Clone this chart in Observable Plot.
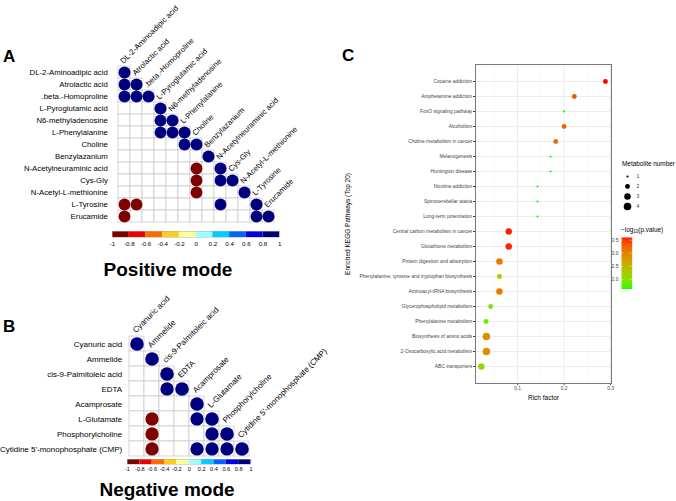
<!DOCTYPE html>
<html>
<head>
<meta charset="utf-8">
<script src="https://cdn.jsdelivr.net/npm/d3@7"></script>
<script src="https://cdn.jsdelivr.net/npm/@observablehq/plot@0.6"></script>
<style>
  body { margin: 0; background: #fff; }
  #root { position: relative; width: 676px; height: 501px; overflow: hidden; background: #fff;
          font-family: "Liberation Sans", Arial, Helvetica, sans-serif; }
  .abs { position: absolute; }
  #overlay { position: absolute; left: 0; top: 0; pointer-events: none; }
</style>
</head>
<body>
<div id="root"></div>
<script>
// ---------------- DATA ----------------
// Panel A (positive mode) metabolites, in row/column order
const posNames = [
  "DL-2-Aminoadipic acid", "Atrolactic acid", ".beta.-Homoproline", "L-Pyroglutamic acid",
  "N6-methyladenosine", "L-Phenylalanine", "Choline", "Benzylazanium",
  "N-Acetylneuraminic acid", "Cys-Gly", "N-Acetyl-L-methionine", "L-Tyrosine", "Erucamide"
];
// significant off-diagonal correlations [row, column, r]
const posCorr = [
  ["Atrolactic acid", "DL-2-Aminoadipic acid", 0.95],
  [".beta.-Homoproline", "DL-2-Aminoadipic acid", 0.95],
  [".beta.-Homoproline", "Atrolactic acid", 0.95],
  ["N6-methyladenosine", "L-Pyroglutamic acid", 0.95],
  ["L-Phenylalanine", "L-Pyroglutamic acid", 0.95],
  ["L-Phenylalanine", "N6-methyladenosine", 0.95],
  ["Choline", "L-Phenylalanine", 0.95],
  ["N-Acetylneuraminic acid", "Choline", -0.95],
  ["Cys-Gly", "Choline", -0.95],
  ["Cys-Gly", "N-Acetylneuraminic acid", 0.95],
  ["N-Acetyl-L-methionine", "Choline", -0.95],
  ["L-Tyrosine", "DL-2-Aminoadipic acid", -0.95],
  ["L-Tyrosine", "Atrolactic acid", -0.95],
  ["L-Tyrosine", "N-Acetylneuraminic acid", 0.95],
  ["Erucamide", "DL-2-Aminoadipic acid", -0.95],
  ["Erucamide", "L-Tyrosine", 0.95]
];

// Panel B (negative mode)
const negNames = [
  "Cyanuric acid", "Ammelide", "cis-9-Palmitoleic acid", "EDTA", "Acamprosate",
  "L-Glutamate", "Phosphorylcholine", "Cytidine 5'-monophosphate (CMP)"
];
const negCorr = [
  ["EDTA", "cis-9-Palmitoleic acid", 0.95],
  ["L-Glutamate", "Ammelide", -0.95],
  ["L-Glutamate", "Acamprosate", 0.95],
  ["Phosphorylcholine", "Ammelide", -0.95],
  ["Phosphorylcholine", "L-Glutamate", 0.95],
  ["Cytidine 5'-monophosphate (CMP)", "Ammelide", -0.95],
  ["Cytidine 5'-monophosphate (CMP)", "Acamprosate", 0.95],
  ["Cytidine 5'-monophosphate (CMP)", "L-Glutamate", 0.95],
  ["Cytidine 5'-monophosphate (CMP)", "Phosphorylcholine", 0.95]
];

// correlation colour bar
const colorbarTicks = [-1, -0.8, -0.6, -0.4, -0.2, 0, 0.2, 0.4, 0.6, 0.8, 1];
const corrThresholds = [-0.8, -0.6, -0.4, -0.2, 0, 0.2, 0.4, 0.6, 0.8];
const corrColors = ["#7F0000", "#EE0000", "#FF6A00", "#FFCC1A", "#FFFF99",
                    "#99FFFF", "#00CCFF", "#0066FF", "#0000E6", "#00007F"];

// Panel C (KEGG enrichment)
const pathways = [
  "Cocaine addiction", "Amphetamine addiction", "FoxO signaling pathway", "Alcoholism",
  "Choline metabolism in cancer", "Melanogenesis", "Huntington disease", "Nicotine addiction",
  "Spinocerebellar ataxia", "Long-term potentiation", "Central carbon metabolism in cancer",
  "Glutathione metabolism", "Protein digestion and absorption",
  "Phenylalanine, tyrosine and tryptophan biosynthesis", "Aminoacyl-tRNA biosynthesis",
  "Glycerophospholipid metabolism", "Phenylalanine metabolism", "Biosynthesis of amino acids",
  "2-Oxocarboxylic acid metabolism", "ABC transporters"
];
const richFactor = [0.289, 0.222, 0.200, 0.200, 0.182, 0.171, 0.171, 0.143, 0.143, 0.143,
                    0.081, 0.081, 0.061, 0.061, 0.061, 0.042, 0.032, 0.033, 0.033, 0.022];
const metaboliteNumber = [2, 2, 1, 2, 2, 1, 1, 1, 1, 1, 3, 3, 3, 2, 3, 2, 2, 4, 4, 3];
const negLogP = [3.60, 3.30, 1.62, 3.25, 3.20, 1.62, 1.62, 1.62, 1.62, 1.62,
                 3.55, 3.55, 3.10, 2.40, 3.10, 1.95, 1.85, 2.90, 2.90, 2.10];
const sizeLevels = [1, 2, 3, 4];
const pTicks = [2.0, 2.5, 3.0, 3.5];
const pDomain = [1.62, 3.60];
const richTicks = [0.1, 0.2, 0.3];
const richMinor = [0.05, 0.15, 0.25];

// ---------------- DRAWING ----------------
const FONT = '"Liberation Sans", Arial, Helvetica, sans-serif';
const root = document.getElementById("root");
function place(node, left, top, w) {
  const d = document.createElement("div");
  d.className = "abs";
  d.style.left = left + "px"; d.style.top = top + "px"; d.style.width = w + "px";
  d.append(node); root.append(d);
}
const corrColor = {type: "threshold", domain: corrThresholds, range: corrColors};

function corrPlot(names, corr, o) {
  const n = names.length;
  const cells = names.flatMap((row, i) => names.slice(0, i + 1).map(col => ({row, col})));
  const diag = names.map(nm => ({row: nm, col: nm}));
  const dots = names.map(nm => ({a: nm, b: nm, r: 1}))
    .concat(corr.map(([a, b, r]) => ({a, b, r})));
  return Plot.plot({
    width: o.width,
    height: o.gridTop + n * o.cell + 2,
    marginLeft: o.gridLeft,
    marginRight: o.width - o.gridLeft - n * o.cell,
    marginTop: o.gridTop,
    marginBottom: 2,
    style: {fontFamily: FONT, fontSize: o.font + "px", background: "transparent", color: "#000", overflow: "visible"},
    x: {domain: names, padding: 0, axis: null},
    y: {domain: names, padding: 0, tickSize: 0, tickPadding: o.pad, label: null},
    r: {type: "sqrt", domain: [0, 1], range: [0, o.rFrac * o.cell]},
    color: corrColor,
    marks: [
      Plot.cell(cells, {x: "col", y: "row", fill: "white", stroke: "#cccccc", strokeWidth: 0.8, inset: 0}),
      Plot.dot(dots, {x: "b", y: "a", r: d => Math.abs(d.r), fill: "r"}),
      Plot.text(diag, {x: "col", y: "row", text: "col", rotate: -45, textAnchor: "start",
        lineAnchor: "bottom", dx: -1, dy: -o.cell / 2 - o.lift, fontSize: o.font, fill: "#000"})
    ]
  });
}

function colorbar(gridLeft, gridWidth, barH, font, pad) {
  const bins = d3.pairs(colorbarTicks).map(([lo, hi]) => ({lo, hi, mid: (lo + hi) / 2}));
  return Plot.plot({
    width: gridLeft + gridWidth + 12,
    height: 3 + barH + 13,
    marginLeft: gridLeft, marginRight: 12, marginTop: 3, marginBottom: 13,
    style: {fontFamily: FONT, fontSize: font + "px", background: "transparent", color: "#000", overflow: "visible"},
    x: {domain: [-1, 1], ticks: colorbarTicks, tickFormat: d => String(d), tickSize: 0, tickPadding: pad, label: null},
    y: {domain: [0, 1], axis: null},
    color: corrColor,
    marks: [
      Plot.rect(bins, {x1: "lo", x2: "hi", y1: 0, y2: 1, fill: "mid"}),
      Plot.frame({stroke: "#b0b0b0", strokeWidth: 0.5})
    ]
  });
}

// Panel A
const cellA = (279.3 - 112) / posNames.length;
place(corrPlot(posNames, posCorr, {width: 340, gridLeft: 112, gridTop: 60.5, cell: cellA,
  font: 7.8, pad: 4.7, rFrac: 0.47, lift: 2}), 0, 0, 340);
place(colorbar(112, 13 * cellA, 6, 6.2, 4), 0, 228, 112 + 13 * cellA + 12);

// Panel B
const cellB = 15.45;
place(corrPlot(negNames, negCorr, {width: 340, gridLeft: 127, gridTop: 54, cell: cellB,
  font: 8, pad: 5.3, rFrac: 0.44, lift: 3}), 0, 280, 340);
place(colorbar(127, 8 * cellB, 5, 5.6, 3), 0, 456, 127 + 8 * cellB + 12);

// Panel C
const rScale = {type: "log", domain: [1, 4], range: [1.1, 3.8]};
const pColor = {type: "linear", domain: pDomain, range: ["#00FF00", "#FF0000"], interpolate: "lab"};
const keggRows = pathways.map((name, i) => ({name, rich: richFactor[i], count: metaboliteNumber[i], p: negLogP[i]}));
const plotC = Plot.plot({
  width: 336, height: 420,
  marginLeft: 135, marginRight: 65, marginTop: 64, marginBottom: 37,
  style: {fontFamily: FONT, fontSize: "4.9px", background: "transparent", color: "#444", overflow: "visible"},
  x: {domain: [0.0095, 0.302], ticks: richTicks, tickFormat: d3.format(".1f"), tickSize: 2, tickPadding: 1.5, label: null},
  y: {domain: pathways, type: "point", padding: 0.6, tickSize: 2, tickPadding: 1.2, label: null},
  r: rScale,
  color: pColor,
  marks: [
    Plot.ruleX(richMinor, {stroke: "#f2f2f2", strokeWidth: 0.5}),
    Plot.ruleX(richTicks, {stroke: "#e6e6e6", strokeWidth: 0.8}),
    Plot.ruleY(pathways, {stroke: "#e8e8e8", strokeWidth: 0.8}),
    Plot.dot(keggRows, {x: "rich", y: "name", r: "count", fill: "p"}),
    Plot.frame({stroke: "#7a7a7a", strokeWidth: 1}),
    Plot.text(["Rich factor"], {text: d => d, frameAnchor: "bottom", textAnchor: "middle", lineAnchor: "middle",
      dy: 14, fontSize: 6.5, fill: "#000"}),
    Plot.text(["Enriched KEGG Pathways (Top 20)"], {text: d => d, frameAnchor: "left", textAnchor: "middle",
      lineAnchor: "middle", dx: -128, rotate: -90, fontSize: 6.5, fill: "#000"})
  ]
});
place(plotC, 340, 0, 336);

// size legend
const sizeLegend = Plot.plot({
  width: 40, height: 45, marginLeft: 0, marginRight: 0, marginTop: 7, marginBottom: 6.5,
  style: {fontFamily: FONT, fontSize: "5px", background: "transparent", color: "#333", overflow: "visible"},
  y: {domain: sizeLevels, type: "point", padding: 0, axis: null},
  r: rScale,
  marks: [
    Plot.dot(sizeLevels, {y: d => d, r: d => d, fill: "#000", frameAnchor: "left", dx: 12}),
    Plot.text(sizeLevels, {y: d => d, text: d => String(d), frameAnchor: "left", dx: 21, textAnchor: "start", fill: "#333"})
  ]
});
place(sizeLegend, 615, 168, 40);

// colour ramp legend
const rampMarks = Plot.raster
  ? [Plot.raster({x1: 0, x2: 1, y1: pDomain[0], y2: pDomain[1], width: 1, height: 80, fill: (x, y) => y, imageRendering: "auto"})]
  : [Plot.rect(d3.range(pDomain[0], pDomain[1], 0.02), {x1: 0, x2: 1, y1: d => d, y2: d => Math.min(d + 0.021, pDomain[1]), fill: d => d})];
const rampLegend = Plot.plot({
  width: 30, height: 51.6, marginLeft: 0, marginRight: 19.3, marginTop: 0, marginBottom: 0,
  style: {fontFamily: FONT, fontSize: "5px", background: "transparent", color: "#444", overflow: "visible"},
  x: {domain: [0, 1], axis: null},
  y: {domain: pDomain, ticks: pTicks, tickFormat: d3.format(".1f"), tickSize: 0, tickPadding: 3, anchor: "right", label: null},
  color: pColor,
  marks: [
    ...rampMarks,
    Plot.ruleY(pTicks, {x1: 0, x2: 0.2, stroke: "white", strokeWidth: 0.5}),
    Plot.ruleY(pTicks, {x1: 0.8, x2: 1, stroke: "white", strokeWidth: 0.5})
  ]
});
place(rampLegend, 621, 236.7, 30);

// titles / panel letters (text overlay)
const NS = "http://www.w3.org/2000/svg";
const ov = document.createElementNS(NS, "svg");
ov.setAttribute("id", "overlay"); ov.setAttribute("width", 676); ov.setAttribute("height", 501);
ov.setAttribute("font-family", FONT);
function addText(str, x, y, size, weight, anchor) {
  const t = document.createElementNS(NS, "text");
  t.setAttribute("x", x); t.setAttribute("y", y);
  t.setAttribute("font-size", size); t.setAttribute("font-weight", weight || "normal");
  t.setAttribute("text-anchor", anchor || "start"); t.setAttribute("fill", "#000");
  t.textContent = str; ov.append(t); return t;
}
addText("A", 3, 62, 17, "bold");
addText("B", 3, 332, 17, "bold");
addText("C", 342, 61, 17, "bold");
addText("Positive mode", 168, 275.5, 19, "bold", "middle");
addText("Negative mode", 167, 496, 19, "bold", "middle");
addText("Metabolite number", 622, 165.5, 6.4);
const lt = addText("", 621, 231.5, 6.4);
const t1 = document.createElementNS(NS, "tspan"); t1.textContent = "\u2212log";
const t2 = document.createElementNS(NS, "tspan"); t2.textContent = "10"; t2.setAttribute("font-size", 4.5); t2.setAttribute("dy", 1.5);
const t3 = document.createElementNS(NS, "tspan"); t3.textContent = "(p.value)"; t3.setAttribute("dy", -1.5);
lt.append(t1, t2, t3);
root.append(ov);
</script>
</body>
</html>
